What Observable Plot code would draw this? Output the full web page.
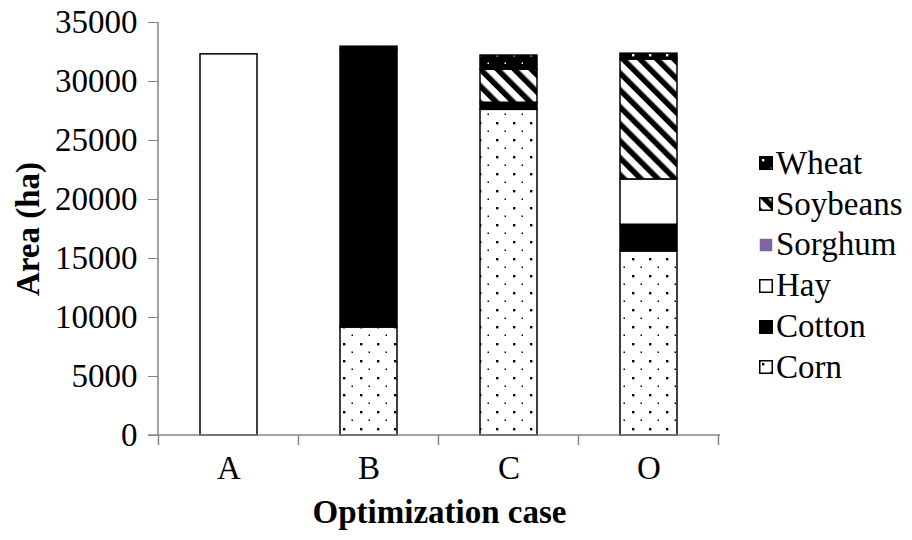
<!DOCTYPE html>
<html><head><meta charset="utf-8">
<script src="https://cdn.jsdelivr.net/npm/d3@7"></script>
<script src="https://cdn.jsdelivr.net/npm/@observablehq/plot@0.6"></script>
<style>
body{margin:0;background:#fff;font-family:"Liberation Serif","Times New Roman",serif;}
#wrap{position:relative;width:912px;height:540px;}
#legend{position:absolute;left:759px;top:143px;font-size:33px;color:#000;}
.row{display:flex;align-items:center;height:40.8px;}
.row svg{margin-right:3px;flex:none;}
</style></head><body>
<svg width="0" height="0" style="position:absolute">
<defs>
  <pattern id="pCorn" patternUnits="userSpaceOnUse" width="17" height="17">
    <rect width="17" height="17" fill="#fff"/>
    <rect x="3" y="3" width="2.4" height="2.4" fill="#000"/>
    <rect x="11.5" y="11.5" width="1.5" height="1.5" fill="#000"/>
  </pattern>
  <pattern id="pWheat" patternUnits="userSpaceOnUse" width="17" height="17">
    <rect width="17" height="17" fill="#000"/>
    <rect x="3" y="3" width="2.4" height="2.4" fill="#fff"/>
    <rect x="11.5" y="11.5" width="1.5" height="1.5" fill="#fff"/>
  </pattern>
  <pattern id="pSoy" patternUnits="userSpaceOnUse" width="12" height="12" patternTransform="rotate(-45)">
    <rect width="12" height="12" fill="#fff"/>
    <rect x="0" y="0" width="5.5" height="12" fill="#000"/>
  </pattern>
</defs></svg>
<div id="wrap"><div id="chart"></div><div id="legend"></div></div>
<script>
const cases = ["A", "B", "C", "O"];
const crops = ["Corn", "Cotton", "Hay", "Sorghum", "Soybeans", "Wheat"];
const corn     = [0, 9150, 27600, 15600];
const cotton   = [0, 23600, 600, 2260];
const hay      = [32300, 0, 0, 3840];
const sorghum  = [0, 0, 0, 0];
const soybeans = [0, 0, 2800, 10160];
const wheat    = [0, 200, 1200, 500];
const yTicks = [0, 5000, 10000, 15000, 20000, 25000, 30000, 35000];

const series = {Corn: corn, Cotton: cotton, Hay: hay, Sorghum: sorghum, Soybeans: soybeans, Wheat: wheat};
const fills = {Corn: "url(#pCorn)", Cotton: "#000000", Hay: "#ffffff", Sorghum: "#8064A2", Soybeans: "url(#pSoy)", Wheat: "url(#pWheat)"};

const rows = [];
crops.forEach(crop => cases.forEach((c, i) => {
  if (series[crop][i] > 0) rows.push({case: c, crop, area: series[crop][i]});
}));

const axisLines = (index, scales, values, dims) => {
  const {x, y} = scales;
  const g = d3.create("svg:g").attr("stroke", "#868686").attr("stroke-width", 1.5);
  const left = dims.marginLeft, right = dims.width - dims.marginRight;
  const y0 = y(0);
  g.append("line").attr("x1", left).attr("x2", left).attr("y1", y(35000)).attr("y2", y0);
  g.append("line").attr("x1", left - 10).attr("x2", right).attr("y1", y0).attr("y2", y0);
  const bw = typeof x.bandwidth === "function" ? x.bandwidth() : x.bandwidth;
  const step = x(cases[1]) - x(cases[0]);
  const bounds = cases.map(c => x(c) + bw / 2 - step / 2);
  bounds.push(x(cases[cases.length - 1]) + bw / 2 + step / 2);
  bounds.forEach(b => g.append("line").attr("x1", b).attr("x2", b).attr("y1", y0).attr("y2", y0 + 10));
  return g.node();
};

const chart = Plot.plot({
  width: 912, height: 540,
  marginLeft: 158, marginRight: 192, marginTop: 22, marginBottom: 105,
  style: {fontFamily: "'Liberation Serif', 'Times New Roman', serif", fontSize: "33px", color: "#000", background: "#fff"},
  x: {domain: cases, paddingInner: 0.59, paddingOuter: 0.295, label: null},
  y: {domain: [0, 35000], label: null},
  color: {type: "identity"},
  marks: [
    Plot.barY(rows, Plot.stackY({x: "case", y: "area", z: "crop", order: crops, fill: d => fills[d.crop], stroke: "#000", strokeWidth: 1.5})),
    axisLines,
    Plot.axisY({ticks: yTicks, tickSize: 10, tickPadding: 11, tickFormat: d => String(d), stroke: "#868686", fill: "#000", fontSize: 33, label: null}),
    Plot.axisX({tickSize: 0, tickPadding: 20, fill: "#000", fontSize: 33, label: null}),
    Plot.text(["Optimization case"], {frameAnchor: "bottom", dy: 87, fontWeight: "bold", fontSize: 33, fill: "#000"}),
    Plot.text(["Area (ha)"], {frameAnchor: "left", textAnchor: "middle", dx: -130, rotate: -90, fontWeight: "bold", fontSize: 33, fill: "#000"})
  ]
});
document.getElementById("chart").appendChild(chart);

const legend = document.getElementById("legend");
crops.slice().reverse().forEach(crop => {
  const row = document.createElement("div");
  row.className = "row";
  const stroke = (crop === "Sorghum") ? "none" : "#000";
  row.innerHTML = `<svg width="14" height="14"><rect x="0.75" y="0.75" width="12.5" height="12.5" fill="${fills[crop]}" stroke="${stroke}" stroke-width="1.5"/></svg><span>${crop}</span>`;
  legend.appendChild(row);
});
</script>
</body></html>
